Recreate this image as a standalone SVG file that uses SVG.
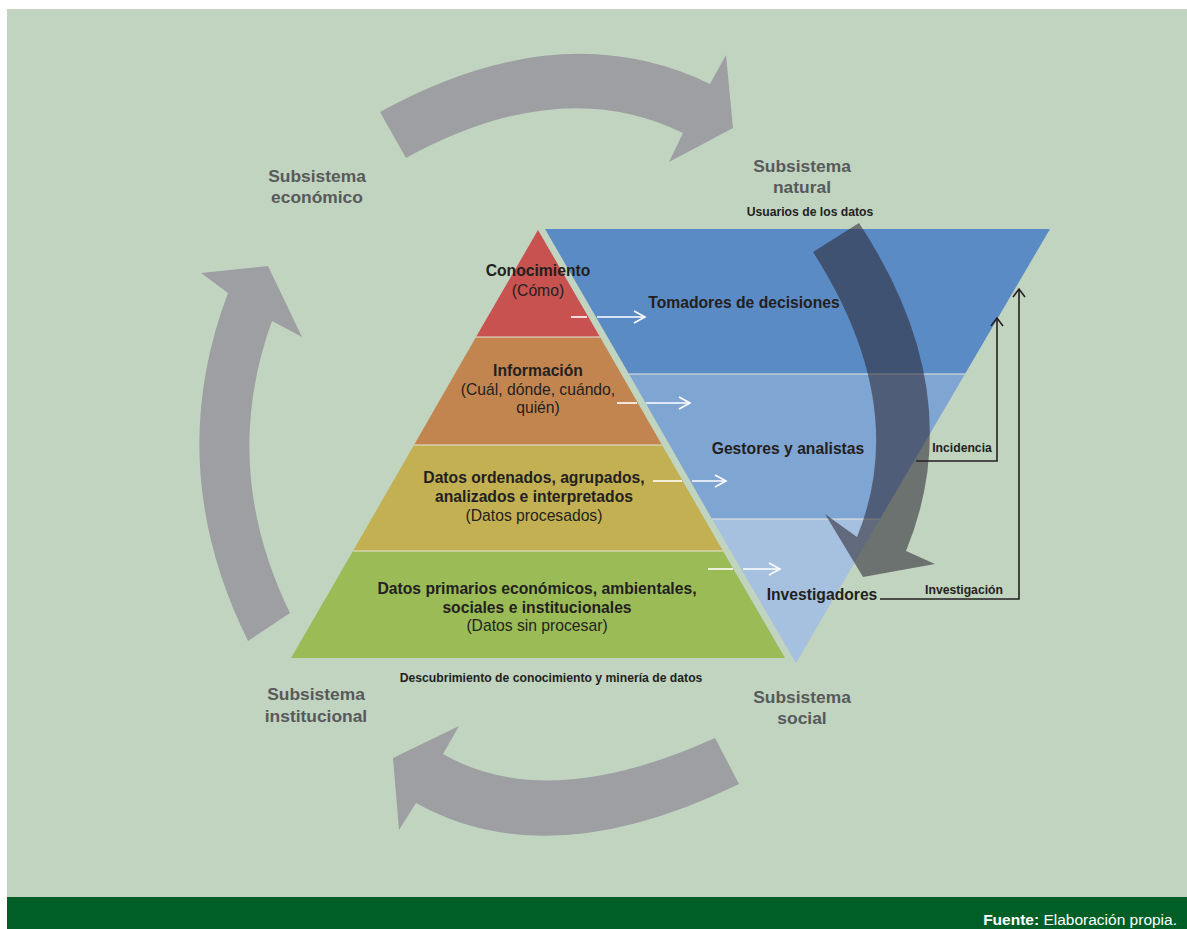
<svg xmlns="http://www.w3.org/2000/svg" width="1187" height="929" viewBox="0 0 1187 929">
<defs>
<style>
.t{font-family:"Liberation Sans",Arial,sans-serif;fill:#231f20;text-anchor:middle;font-size:15.7px}
.b{font-weight:bold}
.sm{font-size:12.2px;font-weight:bold}
.s{font-family:"Liberation Sans",Arial,sans-serif;fill:#58595b;font-weight:bold;font-size:17.4px;text-anchor:middle}
.cyc{fill:#9e9fa3}
.wa{stroke:#ffffff;stroke-width:1.6;fill:none}
.ka{stroke:#231f20;stroke-width:1.6;fill:none}
.sep{stroke:#e2e6d8;stroke-width:1}
</style>
<marker id="wh" markerWidth="14" markerHeight="14" refX="12" refY="7" orient="auto" markerUnits="userSpaceOnUse">
<path d="M1,1 L12,7 L1,13" fill="none" stroke="#ffffff" stroke-width="1.6"/>
</marker>
<marker id="kh" markerWidth="14" markerHeight="14" refX="10" refY="7" orient="auto" markerUnits="userSpaceOnUse">
<path d="M2,1 L10,7 L2,13" fill="none" stroke="#231f20" stroke-width="1.6"/>
</marker>
</defs>
<rect x="0" y="0" width="1187" height="929" fill="#ffffff"/>
<rect x="7" y="9" width="1180" height="888" fill="#c0d4c0"/>
<rect x="7" y="897" width="1180" height="32" fill="#005f27"/>
<text x="1177" y="925" font-family="Liberation Sans,Arial,sans-serif" font-size="15.5" fill="#ffffff" text-anchor="end"><tspan font-weight="bold">Fuente:</tspan> Elaboración propia.</text>

<g id="cycle-arrows">
<path class="cyc" d="M380,112 Q561,12 710,84 L726,55 L733,128 L669,162 L683,133 Q561,73 406,158 Z"/>
<path class="cyc" d="M268,266 L302,337 L272,321 Q219,467 290,613 L248,641 Q162,467 228,293 L201,273 Z"/>
<path class="cyc" d="M393,758 L459,726 L443,754 Q547,814 715,738 L739,784 Q548,877 416,803 L399,830 Z"/>
</g>

<g id="subsistemas">
<text class="s" x="317" y="182">Subsistema</text><text class="s" x="317" y="203">económico</text>
<text class="s" x="802" y="172">Subsistema</text><text class="s" x="802" y="193">natural</text>
<text class="s" x="316" y="700">Subsistema</text><text class="s" x="316" y="722">institucional</text>
<text class="s" x="802" y="703">Subsistema</text><text class="s" x="802" y="724">social</text>
</g>

<g id="funnel">
<polygon points="545,229 1050,229 965,374 629,374" fill="#5b8bc5"/>
<polygon points="629,374 965,374 880,519 712,519" fill="#7fa5d3"/>
<polygon points="712,519 880,519 796,663" fill="#a6c0e0"/>
<line class="sep" x1="629" y1="374" x2="965" y2="374"/>
<line class="sep" x1="712" y1="519" x2="880" y2="519"/>
<text class="t sm" x="810" y="216">Usuarios de los datos</text>
<text class="t b" x="744" y="308">Tomadores de decisiones</text>
<text class="t b" x="788" y="454">Gestores y analistas</text>
<text class="t b" x="822" y="600">Investigadores</text>
</g>

<g id="pyramid">
<polygon points="538,230 600,337 476,337" fill="#c85250"/>
<polygon points="476,337 600,337 662,445 414,445" fill="#c3854f"/>
<polygon points="414,445 662,445 723,551 353,551" fill="#c2b052"/>
<polygon points="353,551 723,551 785,658 291,658" fill="#9bbb57"/>
<line class="sep" x1="476" y1="337" x2="600" y2="337"/>
<line class="sep" x1="414" y1="445" x2="662" y2="445"/>
<line class="sep" x1="353" y1="551" x2="723" y2="551"/>
<text class="t b" x="538" y="276">Conocimiento</text>
<text class="t" x="538" y="296">(Cómo)</text>
<text class="t b" x="538" y="376">Información</text>
<text class="t" x="538" y="395">(Cuál, dónde, cuándo,</text>
<text class="t" x="538" y="413">quién)</text>
<text class="t b" x="534" y="483">Datos ordenados, agrupados,</text>
<text class="t b" x="534" y="502">analizados e interpretados</text>
<text class="t" x="534" y="521">(Datos procesados)</text>
<text class="t b" x="537" y="594">Datos primarios económicos, ambientales,</text>
<text class="t b" x="537" y="613">sociales e institucionales</text>
<text class="t" x="537" y="631">(Datos sin procesar)</text>
<text class="t sm" x="551" y="682">Descubrimiento de conocimiento y minería de datos</text>
</g>

<g id="connectors">
<line class="wa" x1="571" y1="317" x2="587" y2="317"/>
<line class="wa" x1="597" y1="317" x2="645" y2="317" marker-end="url(#wh)"/>
<line class="wa" x1="617" y1="403" x2="637" y2="403"/>
<line class="wa" x1="646" y1="403" x2="690" y2="403" marker-end="url(#wh)"/>
<line class="wa" x1="653" y1="481" x2="682" y2="481"/>
<line class="wa" x1="692" y1="481" x2="726" y2="481" marker-end="url(#wh)"/>
<line class="wa" x1="708" y1="569" x2="733" y2="569"/>
<line class="wa" x1="743" y1="569" x2="780" y2="569" marker-end="url(#wh)"/>
<path d="M813,252 L859,223 Q971,393 906,551 L935,564 L863,577 L825,514 L857,537 Q911,405 813,252 Z" fill="#2a2530" fill-opacity="0.56"/>
<path class="ka" d="M916,461 H997 V318" marker-end="url(#kh)"/>
<path class="ka" d="M880,599 H1019 V289" marker-end="url(#kh)"/>
<text class="t sm" x="962" y="452">Incidencia</text>
<text class="t sm" x="964" y="594">Investigación</text>
</g>
</svg>
